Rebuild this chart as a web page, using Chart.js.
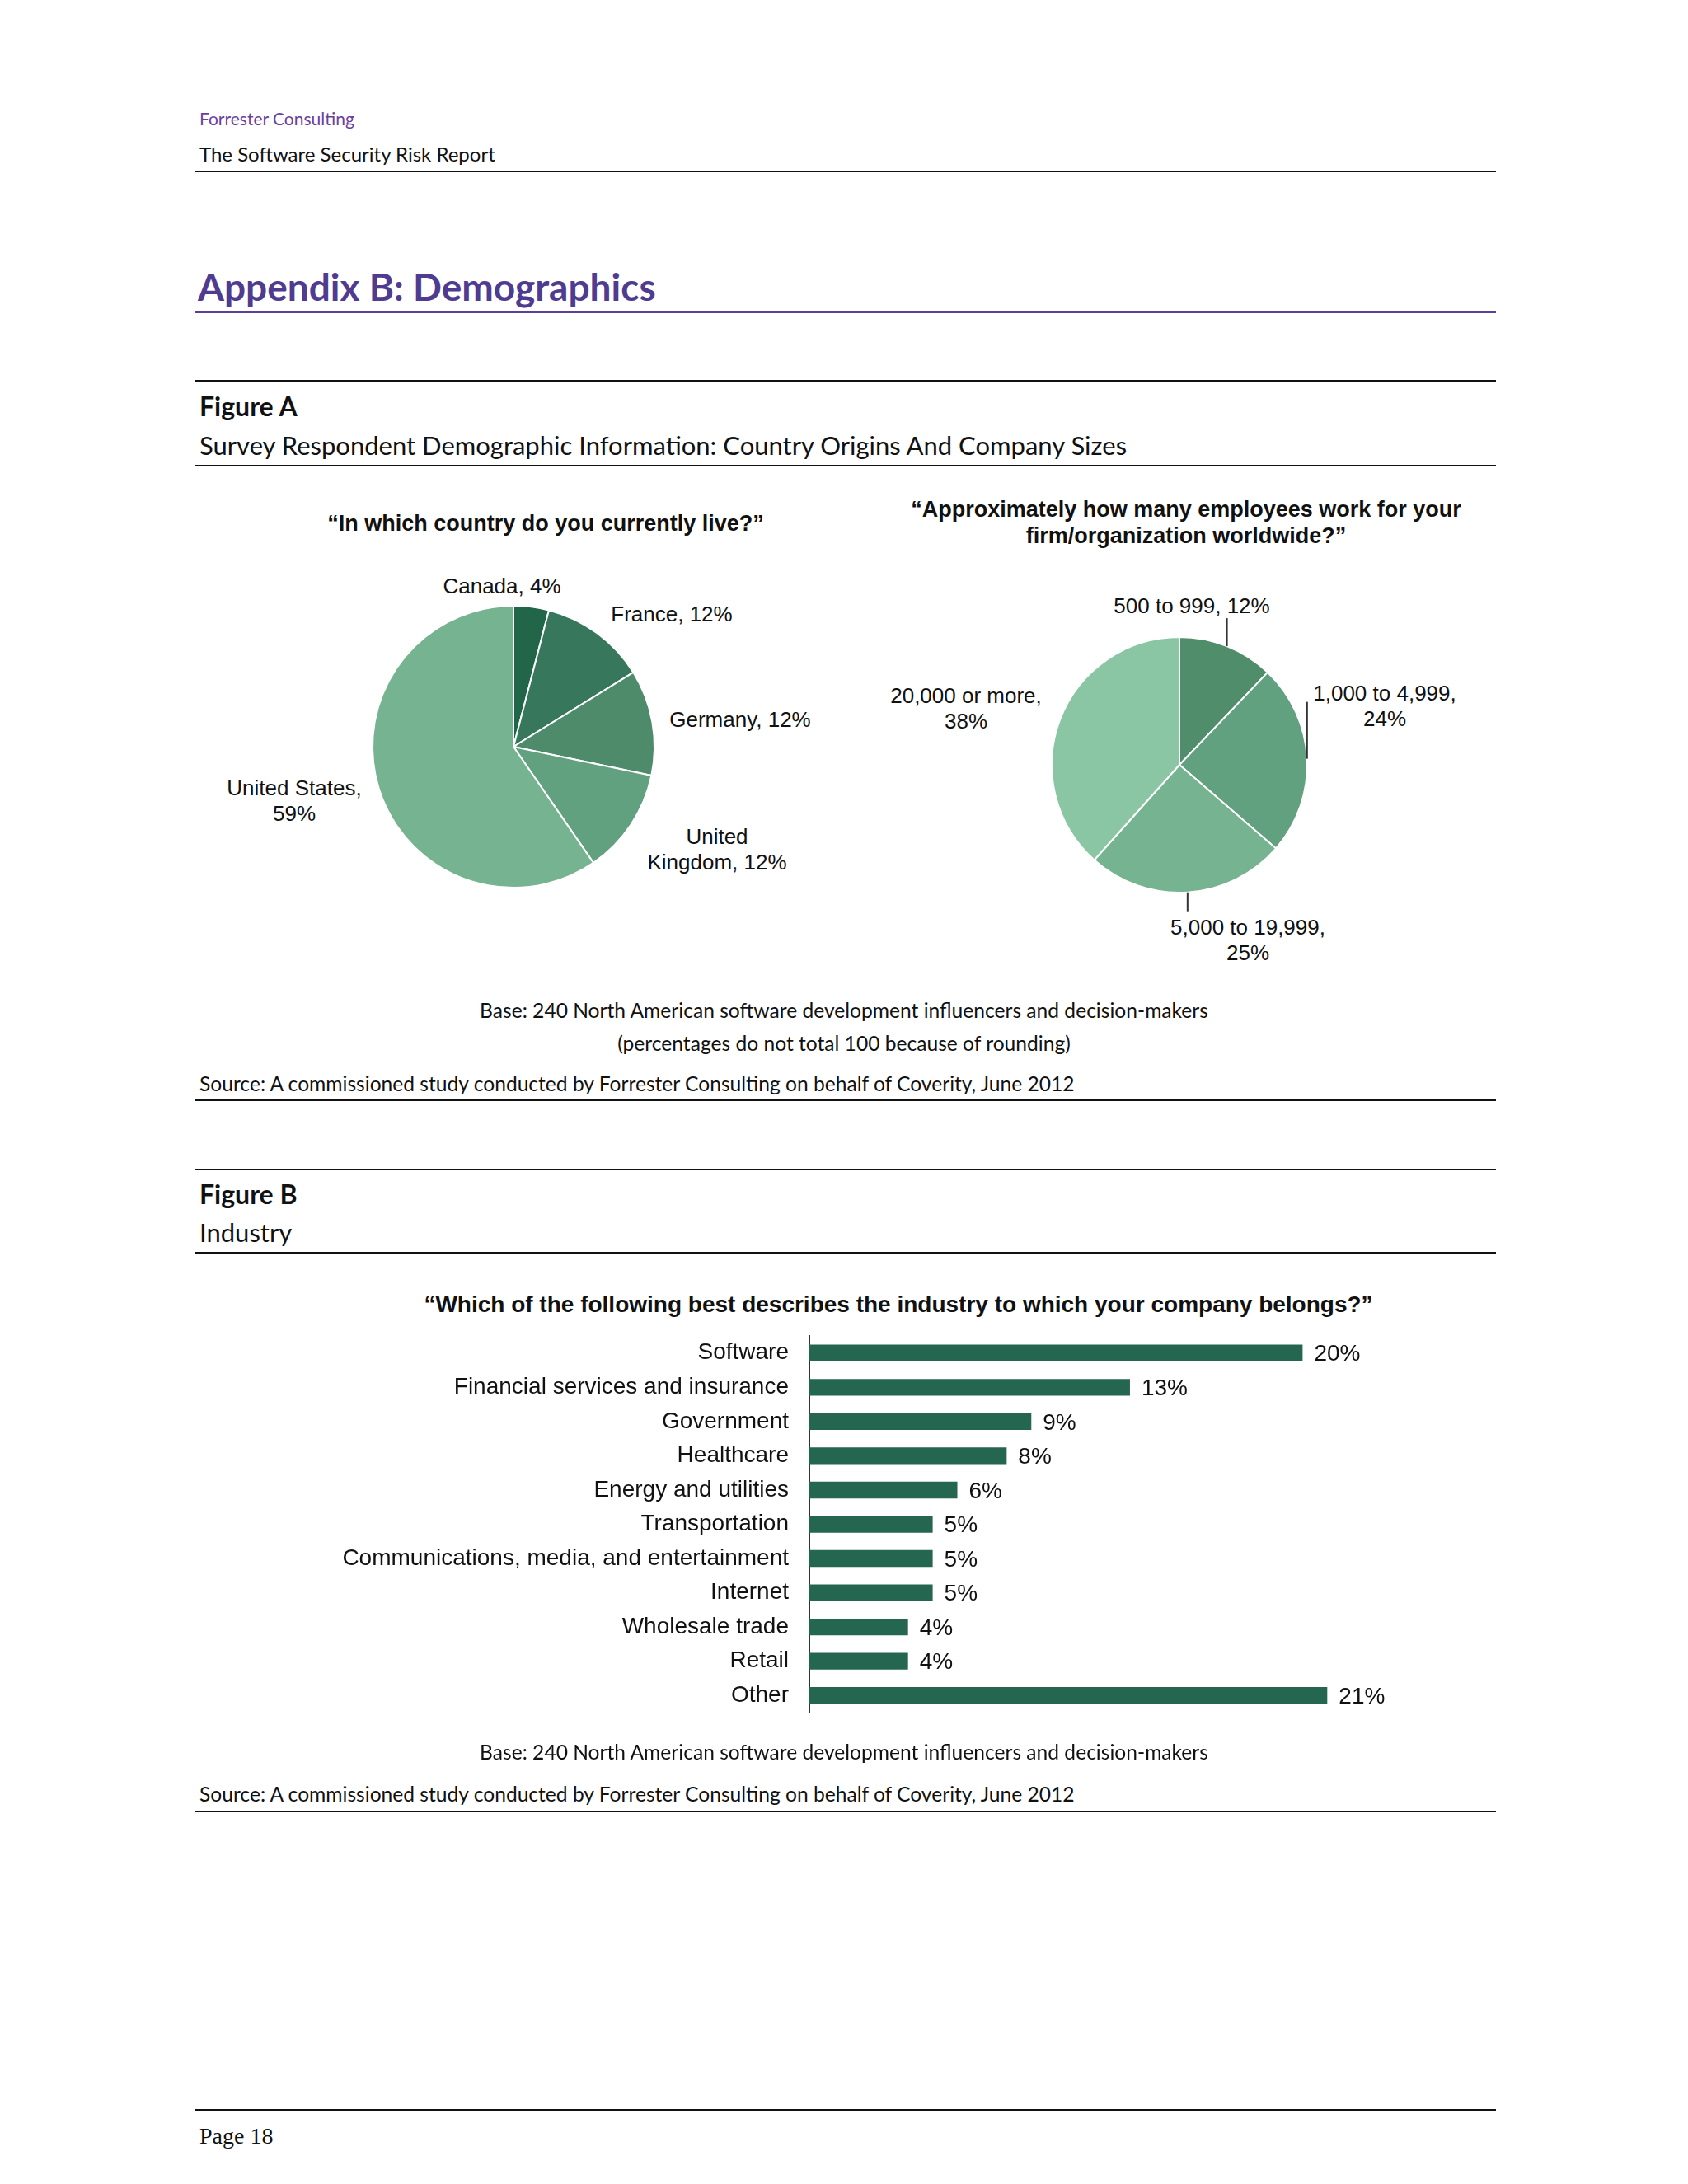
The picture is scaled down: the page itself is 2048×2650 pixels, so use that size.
<!DOCTYPE html>
<html>
<head>
<meta charset="utf-8">
<script src="https://cdn.jsdelivr.net/npm/chart.js@4.4.0/dist/chart.umd.min.js"></script>
<style>
  body { margin: 0; background: #fff; }
  #page { position: relative; width: 2048px; height: 2650px; background: #fff; overflow: hidden; }
  .t { position: absolute; white-space: nowrap; font-family: Lato, "Open Sans", sans-serif; color: #111; }
  .c { transform: translateX(-50%); text-align: center; }
  .rule { position: absolute; left: 237px; width: 1578px; height: 2px; background: #111; }
  .q { position: absolute; font-family: "Liberation Sans", Arial, sans-serif; font-weight: bold; font-size: 27px; color: #111; text-align: center; transform: translateX(-50%); white-space: nowrap; line-height: 32px; }
  .lbl { position: absolute; font-family: "Liberation Sans", Arial, sans-serif; font-size: 26px; color: #111; text-align: center; transform: translateX(-50%); white-space: nowrap; line-height: 31px; }
  .box { position: absolute; }
</style>
</head>
<body>
<div id="page">
  <div class="t" style="left:242px; top:131px; font-size:21px; color:#6b3fa0;">Forrester Consulting</div>
  <div class="t" style="left:242px; top:172px; font-size:24px;">The Software Security Risk Report</div>
  <div class="rule" style="top:207px;"></div>

  <div class="t" style="left:240px; top:320px; font-size:46px; font-weight:bold; color:#4f3b8f;">Appendix B: Demographics</div>
  <div class="rule" style="top:377px; height:3px; background:#5b3f99;"></div>

  <div class="rule" style="top:461px;"></div>
  <div class="t" style="left:242px; top:473px; font-size:32px; font-weight:bold;">Figure A</div>
  <div class="t" style="left:242px; top:521px; font-size:31px;">Survey Respondent Demographic Information: Country Origins And Company Sizes</div>
  <div class="rule" style="top:564px;"></div>

  <div class="q" style="left:662px; top:619px;">“In which country do you currently live?”</div>
  <div class="q" style="left:1439px; top:602px;">“Approximately how many employees work for your<br>firm/organization worldwide?”</div>

  <div id="countryLabels"></div>
  <div id="sizeLabels"></div>

  <div class="box" style="left:441px; top:724px; width:364px; height:364px;"><canvas id="countryPie"></canvas></div>
  <div class="box" style="left:1231px; top:728px; width:400px; height:400px;"><canvas id="sizePie"></canvas></div>

  <div class="t c" style="left:1024px; top:1211px; font-size:24.6px;">Base: 240 North American software development influencers and decision-makers</div>
  <div class="t c" style="left:1024px; top:1251px; font-size:24.6px;">(percentages do not total 100 because of rounding)</div>
  <div class="t" style="left:242px; top:1300px; font-size:24.6px;">Source: A commissioned study conducted by Forrester Consulting on behalf of Coverity, June 2012</div>
  <div class="rule" style="top:1334px;"></div>

  <div class="rule" style="top:1418px;"></div>
  <div class="t" style="left:242px; top:1429px; font-size:32px; font-weight:bold;">Figure B</div>
  <div class="t" style="left:242px; top:1476px; font-size:31px;">Industry</div>
  <div class="rule" style="top:1519px;"></div>

  <div class="q" style="left:1090px; top:1567px; font-size:28px;">“Which of the following best describes the industry to which your company belongs?”</div>
  <div class="box" style="left:300px; top:1571px; width:1460px; height:557px;"><canvas id="industryBar"></canvas></div>

  <div class="t c" style="left:1024px; top:2111px; font-size:24.6px;">Base: 240 North American software development influencers and decision-makers</div>
  <div class="t" style="left:242px; top:2162px; font-size:24.6px;">Source: A commissioned study conducted by Forrester Consulting on behalf of Coverity, June 2012</div>
  <div class="rule" style="top:2197px;"></div>

  <div class="rule" style="top:2559px;"></div>
  <div class="t" style="left:242px; top:2576px; font-size:28px; font-family:'Liberation Serif', serif;">Page 18</div>
</div>

<script>
// Figure A, left pie
const countries = ['Canada', 'France', 'Germany', 'United Kingdom', 'United States'];
const countryValues = [4, 12, 12, 12, 59];
const countryColors = ['#22664a', '#37785d', '#4e8b6b', '#62a17f', '#76b390'];

// Figure A, right pie
const sizes = ['500 to 999', '1,000 to 4,999', '5,000 to 19,999', '20,000 or more'];
const sizeValues = [12, 24, 25, 38];
const sizeColors = ['#4f8d6b', '#62a17f', '#76b390', '#8bc6a4'];

// Figure B
const industries = ['Software', 'Financial services and insurance', 'Government', 'Healthcare',
  'Energy and utilities', 'Transportation', 'Communications, media, and entertainment',
  'Internet', 'Wholesale trade', 'Retail', 'Other'];
const industryValues = [20, 13, 9, 8, 6, 5, 5, 5, 4, 4, 21];

// where the pie labels sit on the page (center x, top y, two lines?)
const countryLabelPos = [[609, 696, false], [815, 730, false], [898, 858, false], [870, 1000, true], [357, 941, true]];
const sizeLabelPos = [[1446, 720, false], [1680, 826, true], [1514, 1110, true], [1172, 829, true]];
// length of the vertical leader lines on the right pie (negative = upwards)
const sizeLeaders = [-34, -69, 23, 0];

function placeLabels(id, names, values, pos) {
  const host = document.getElementById(id);
  names.forEach((n, i) => {
    const d = document.createElement('div');
    d.className = 'lbl';
    d.style.left = pos[i][0] + 'px';
    d.style.top = pos[i][1] + 'px';
    if (pos[i][2]) {
      d.innerHTML = (n === 'United Kingdom')
        ? 'United<br>Kingdom, ' + values[i] + '%'
        : n + ',<br>' + values[i] + '%';
    } else {
      d.textContent = n + ', ' + values[i] + '%';
    }
    host.appendChild(d);
  });
}
placeLabels('countryLabels', countries, countryValues, countryLabelPos);
placeLabels('sizeLabels', sizes, sizeValues, sizeLabelPos);

const leaderLines = {
  id: 'leaderLines',
  afterDatasetsDraw(chart) {
    const ctx = chart.ctx;
    const arcs = chart.getDatasetMeta(0).data;
    ctx.save();
    ctx.strokeStyle = '#333';
    ctx.lineWidth = 2;
    arcs.forEach((arc, i) => {
      const len = sizeLeaders[i];
      if (!len) return;
      const mid = (arc.startAngle + arc.endAngle) / 2;
      const x = arc.x + Math.cos(mid) * arc.outerRadius;
      const y = arc.y + Math.sin(mid) * arc.outerRadius;
      ctx.beginPath();
      ctx.moveTo(x, y);
      ctx.lineTo(x, y + len);
      ctx.stroke();
    });
    ctx.restore();
  }
};

const pieOptions = (pad) => ({
  responsive: true,
  maintainAspectRatio: false,
  animation: false,
  layout: { padding: pad },
  plugins: { legend: { display: false }, tooltip: { enabled: false } }
});

new Chart(document.getElementById('countryPie'), {
  type: 'pie',
  data: {
    labels: countries,
    datasets: [{ data: countryValues, backgroundColor: countryColors, borderColor: '#ffffff', borderWidth: 2 }]
  },
  options: pieOptions(10)
});

new Chart(document.getElementById('sizePie'), {
  type: 'pie',
  data: {
    labels: sizes,
    datasets: [{ data: sizeValues, backgroundColor: sizeColors, borderColor: '#ffffff', borderWidth: 2 }]
  },
  options: pieOptions(44),
  plugins: [leaderLines]
});

const valueLabels = {
  id: 'valueLabels',
  afterDatasetsDraw(chart) {
    const ctx = chart.ctx;
    const bars = chart.getDatasetMeta(0).data;
    ctx.save();
    ctx.font = '28px "Liberation Sans", Arial, sans-serif';
    ctx.fillStyle = '#111';
    ctx.textBaseline = 'middle';
    ctx.textAlign = 'left';
    bars.forEach((bar, i) => {
      ctx.fillText(industryValues[i] + '%', bar.x + 14, bar.y + 2);
    });
    ctx.restore();
  }
};

new Chart(document.getElementById('industryBar'), {
  type: 'bar',
  data: {
    labels: industries,
    datasets: [{
      data: industryValues,
      backgroundColor: '#246650',
      barPercentage: 0.49,
      categoryPercentage: 1
    }]
  },
  options: {
    indexAxis: 'y',
    responsive: true,
    maintainAspectRatio: false,
    animation: false,
    layout: { padding: { top: 50, bottom: 50, right: 30, left: 0 } },
    plugins: { legend: { display: false }, tooltip: { enabled: false } },
    scales: {
      x: { display: false, min: 0, max: 25 },
      y: {
        grid: { display: false, drawTicks: false },
        border: { display: true, color: '#333', width: 2 },
        ticks: { color: '#111', padding: 25, font: { family: 'Liberation Sans', size: 28 } },
        afterFit(scale) { scale.width = 682; }
      }
    }
  },
  plugins: [valueLabels]
});
</script>
</body>
</html>
